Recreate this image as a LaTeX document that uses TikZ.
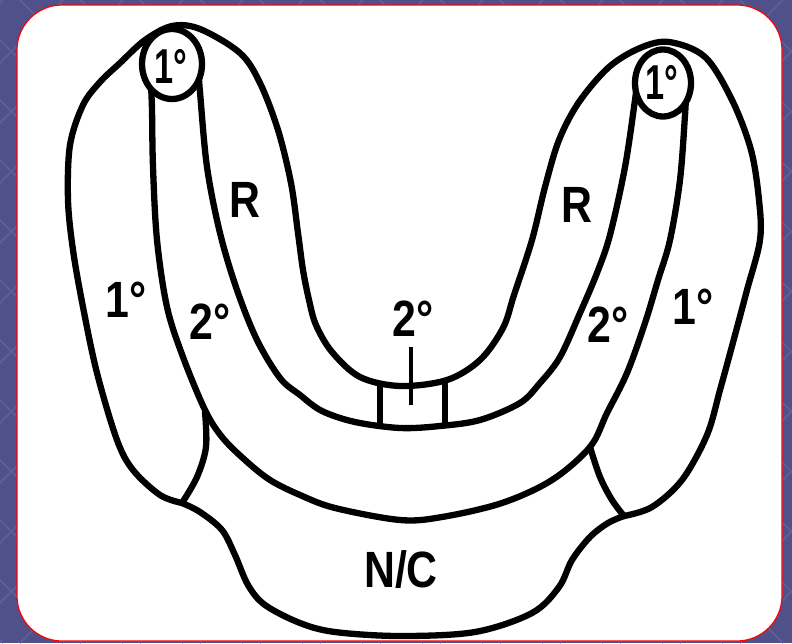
\documentclass[tikz,border=0pt]{standalone}
\usepackage{fontspec}
\usetikzlibrary{shapes.geometric}
\setmainfont{Liberation Sans}
\newfontfamily\lblfont[FakeStretch=0.84]{Liberation Sans Bold}
\newfontfamily\cirfont[FakeStretch=0.7]{Liberation Sans Bold}
\definecolor{bgpurple}{RGB}{80,80,138}
\definecolor{bgline}{RGB}{96,96,152}
\begin{document}
\begin{tikzpicture}[x=1pt,y=-1pt,
  contour/.style={line width=6.3pt, line cap=round, line join=round},
  lbl/.style={font=\lblfont\fontsize{51}{58}\selectfont, inner sep=0pt},
  cirlbl/.style={font=\cirfont\fontsize{49}{56}\selectfont, inner sep=0pt}]
\useasboundingbox (0,0) rectangle (792,643);
% background
\fill[bgpurple] (0,0) rectangle (792,643);
\begin{scope}
  \clip (0,0) rectangle (792,643);
  \foreach \i in {-700,-640,...,800} {
    \draw[bgline, line width=1.5pt] (\i,0) -- (\i+643,643);
    \draw[bgline, line width=1.5pt] (\i+643,0) -- (\i,643);
  }
\end{scope}
\draw[red, line width=1.2pt, fill=white, rounded corners=45pt] (17,5) rectangle (782,641);

% line A: 1/2 boundary and lower arch
\draw[contour] plot[smooth, tension=0.55] coordinates {
  (151,85) (152,110) (153,167) (157,240) (167,307) (183,357) (205,410)
  (222,437) (245,460) (270,480) (300,495) (335,508) (400,520) (442,517)
  (502,503) (552,480) (590,447) (607,413) (627,373) (645,323) (658,280)
  (670,240) (680,180) (685,115) (686,95)};
% line B: 2/R boundary and middle arch
\draw[contour] plot[smooth, tension=0.55] coordinates {
  (199,78) (200,92) (207,167) (220,233) (237,290) (257,340) (280,378)
  (300,395) (322,411) (355,422) (400,428) (440,426) (480,420) (520,403)
  (540,383) (560,357) (580,313) (597,273) (610,235) (625,167) (635,100) (636,90)};
% circles
\node[contour, draw, fill=white, ellipse, minimum width=60pt, minimum height=70pt, inner sep=0pt] (cl) at (172,64) {};
\node[contour, draw, fill=white, ellipse, minimum width=56pt, minimum height=67pt, inner sep=0pt] (cr) at (663,83) {};
% outer horseshoe with inner edge
\draw[contour] plot[smooth, tension=0.55] coordinates {
  (182,503) (160,495) (133,470) (117,440) (97,373) (83,307) (73,250)
  (68,200) (70,145) (83,105) (100,82) (120,63) (145,40) (172,26) (200,29)
  (240,53) (260,83) (278,130) (291,183) (298,233) (303,270) (309,300)
  (316,325) (332,352) (360,377) (400,386) (447,380) (480,360) (503,328)
  (514,295) (532,240) (545,187) (559,140) (579,102) (609,67) (640,48)
  (669,42) (705,57) (732,100) (751,150) (759,200) (760,240) (747,290)
  (735,335) (720,390) (707,435) (682,480) (652,507) (624,516)};
% N/C lower boundary
\draw[contour] plot[smooth, tension=0.55] coordinates {
  (182,503) (200,512) (222,530) (235,555) (248,585) (265,605) (300,623)
  (335,632) (400,636) (475,632) (532,613) (559,587) (572,560) (590,537)
  (608,523) (624,516)};
% short connectors
\draw[contour] plot[smooth, tension=0.55] coordinates {(205,412) (206,447) (197,477) (182,503)};
\draw[contour] plot[smooth, tension=0.55] coordinates {(590,447) (600,477) (612,500) (624,516)};
% box and tick
\draw[contour] (380,386) -- (380,426);
\draw[contour] (445,384) -- (445,424);
\draw[line width=3.8pt] (411,347) -- (411,405);

% labels
\node[cirlbl] (tcl) at (171,66) {1°};
\node[cirlbl] (tcr) at (662,82) {1°};
\node[lbl] (rl) at (245,200) {R};
\node[lbl] (rr) at (577,205) {R};
\node[lbl] (pl) at (126,300) {1°};
\node[lbl] (sl) at (210,322) {2°};
\node[lbl] (sc) at (413,319) {2°};
\node[lbl] (sr) at (608,325) {2°};
\node[lbl] (pr) at (693,307) {1°};
\node[lbl] (nc) at (401,570) {N/C};
\end{tikzpicture}
\end{document}
